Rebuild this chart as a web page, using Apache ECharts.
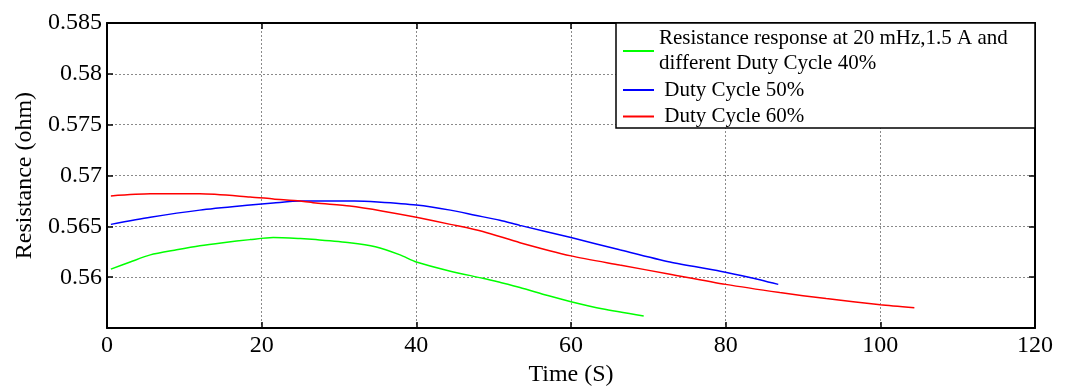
<!DOCTYPE html>
<html>
<head>
<meta charset="utf-8">
<script src="https://cdn.jsdelivr.net/npm/echarts@6/dist/echarts.min.js"></script>
<style>
  html, body { margin: 0; padding: 0; background: #fff; }
  #chart { width: 1071px; height: 392px; }
</style>
</head>
<body>
<div id="chart"></div>
<script>
// Data
var xTicks = [0, 20, 40, 60, 80, 100, 120];
var yTicks = [0.56, 0.565, 0.57, 0.575, 0.58, 0.585];

var dc40Time  = [0.5, 3, 5.6, 9, 12, 15, 18.5, 21.5, 25, 27, 31.4, 34.7, 37.9, 40, 44.4, 48.6, 50.8, 53.4, 57, 60, 64, 69.4];
var dc40Value = [0.5608, 0.5615, 0.5622, 0.5627, 0.5631, 0.5634, 0.5637, 0.5639, 0.5638, 0.5637, 0.5634, 0.5630, 0.5622, 0.5615, 0.5606, 0.5599, 0.5595, 0.5590, 0.5582, 0.5576, 0.5569, 0.5562];

var dc50Time  = [0.5, 5.6, 12, 18.5, 21.5, 25, 27, 32, 35, 40, 44.4, 47.6, 50.8, 53.4, 60, 66.3, 72.8, 79.3, 83, 86.8];
var dc50Value = [0.5652, 0.5659, 0.5666, 0.5671, 0.5673, 0.5675, 0.5675, 0.5675, 0.5674, 0.5671, 0.5666, 0.5661, 0.5656, 0.5651, 0.5639, 0.5627, 0.5615, 0.5606, 0.5600, 0.5593];

var dc60Time  = [0.5, 5.6, 12, 18.5, 21.5, 25, 27, 31.4, 35.7, 40, 44.4, 48.6, 53.4, 60, 66.3, 72.8, 80, 87, 93, 100, 104.4];
var dc60Value = [0.5680, 0.5682, 0.5682, 0.5679, 0.5677, 0.5675, 0.5673, 0.5670, 0.5665, 0.5659, 0.5652, 0.5645, 0.5634, 0.5621, 0.5612, 0.5603, 0.5593, 0.5585, 0.5579, 0.5573, 0.5570];

var seriesNames = [
  'Resistance response at 20 mHz,1.5 A and\ndifferent Duty Cycle 40%',
  ' Duty Cycle 50%',
  ' Duty Cycle 60%'
];
var seriesColors = ['#00ff00', '#0000ff', '#ff0000'];

function pairs(xs, ys) { return xs.map(function (x, i) { return [x, ys[i]]; }); }

var FONT = 'Liberation Serif';
var chart = echarts.init(document.getElementById('chart'), null, { renderer: 'canvas' });

var commonSplit = { show: true, lineStyle: { color: '#8a8a8a', type: [2, 2], width: 1 } };

function lineSeries(i, xs, ys) {
  return {
    name: seriesNames[i], type: 'line', data: pairs(xs, ys),
    smooth: 0.25, showSymbol: false,
    color: seriesColors[i], lineStyle: { width: 1.5, color: seriesColors[i] }
  };
}

chart.setOption({
  animation: false,
  backgroundColor: '#ffffff',
  grid: { left: 107, right: 36, top: 23, bottom: 55, containLabel: false },
  xAxis: [{
    type: 'value', min: 0, max: 120, interval: 20, position: 'bottom',
    name: 'Time (S)', nameLocation: 'middle', nameGap: 34,
    nameTextStyle: { fontFamily: FONT, fontSize: 24, color: '#000' },
    axisLine: { show: true, onZero: false, lineStyle: { color: '#000', width: 2 } },
    axisTick: { show: true, inside: true, length: 6, lineStyle: { color: '#000', width: 1.5 } },
    axisLabel: { fontFamily: FONT, fontSize: 24, color: '#000', margin: 6 },
    splitLine: commonSplit
  }, {
    type: 'value', min: 0, max: 120, interval: 20, position: 'top',
    axisLine: { show: true, onZero: false, lineStyle: { color: '#000', width: 2 } },
    axisTick: { show: true, inside: true, length: 6, lineStyle: { color: '#000', width: 1.5 } },
    axisLabel: { show: false }, splitLine: { show: false }
  }],
  yAxis: [{
    type: 'value', min: 0.555, max: 0.585, interval: 0.005, position: 'left',
    name: 'Resistance (ohm)', nameLocation: 'middle', nameGap: 70, nameRotate: 90,
    nameTextStyle: { fontFamily: FONT, fontSize: 24, color: '#000' },
    axisLine: { show: true, onZero: false, lineStyle: { color: '#000', width: 2 } },
    axisTick: { show: true, inside: true, length: 6, lineStyle: { color: '#000', width: 1.5 } },
    axisLabel: {
      fontFamily: FONT, fontSize: 24, color: '#000', margin: 5,
      formatter: function (v) {
        var r = Math.round(v * 1000) / 1000;
        for (var i = 0; i < yTicks.length; i++) if (Math.abs(yTicks[i] - r) < 1e-9) return String(yTicks[i]);
        return '';
      }
    },
    splitLine: commonSplit
  }, {
    type: 'value', min: 0.555, max: 0.585, interval: 0.005, position: 'right',
    axisLine: { show: true, onZero: false, lineStyle: { color: '#000', width: 2 } },
    axisTick: { show: true, inside: true, length: 6, lineStyle: { color: '#000', width: 1.5 } },
    axisLabel: { show: false }, splitLine: { show: false }
  }],
  graphic: [{
    type: 'rect', z: 5,
    shape: { x: 616, y: 23, width: 419, height: 105 },
    style: { fill: '#ffffff', stroke: '#000', lineWidth: 1.5 }
  }],
  legend: {
    z: 10,
    orient: 'vertical', left: 623, top: 26, padding: 0, itemGap: 1.5,
    itemWidth: 31, itemHeight: 2, icon: 'rect',
    textStyle: { fontFamily: FONT, fontSize: 21, lineHeight: 25, color: '#000' },
    data: seriesNames
  },
  series: [
    lineSeries(0, dc40Time, dc40Value),
    lineSeries(1, dc50Time, dc50Value),
    lineSeries(2, dc60Time, dc60Value)
  ]
});
</script>
</body>
</html>
